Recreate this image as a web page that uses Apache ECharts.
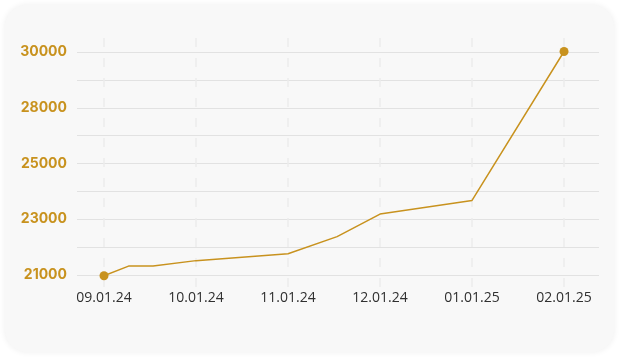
<!DOCTYPE html>
<html>
<head>
<meta charset="utf-8">
<script src="https://cdn.jsdelivr.net/npm/echarts@6/dist/echarts.min.js"></script>
<style>
  html, body { margin: 0; padding: 0; background: #ffffff; width: 619px; height: 358px; overflow: hidden; }
  #card { position: absolute; left: 5px; top: 5px; width: 609px; height: 347px; border-radius: 22px;
          background: #f8f8f8; box-shadow: 0 0 6px rgba(0,0,0,0.07); }
  #chart { position: absolute; left: 0; top: 0; width: 619px; height: 358px; }
</style>
</head>
<body>
<div id="card"></div>
<div id="chart"></div>
<script>
// Data
const dates = ['2024-09-01', '2024-09-09', '2024-09-17', '2024-10-01', '2024-11-01', '2024-11-17', '2024-12-01', '2025-01-01', '2025-02-01'];
const values = [20970, 21360, 21360, 21580, 21860, 22550, 23460, 24010, 30020];
const xTickDates = ['2024-09-01', '2024-10-01', '2024-11-01', '2024-12-01', '2025-01-01', '2025-02-01'];
const xTickLabels = ['09.01.24', '10.01.24', '11.01.24', '12.01.24', '01.01.25', '02.01.25'];
const yTickLabels = ['21000', '', '23000', '', '25000', '', '28000', '', '30000'];

// month-based position: each month occupies an equal span on the axis
const monthPos = s => {
  const [y, m, d] = s.split('-').map(Number);
  const dim = new Date(y, m, 0).getDate();
  return (y - 2024) * 12 + (m - 9) + (d - 1) / dim;
};
const xMin = -0.2935, xMax = 5.38;
const xTicks = xTickDates.map(monthPos);
const yMin = 21000, yMax = 30000, yInt = 1125;
const lastIdx = dates.length - 1;

const seriesData = dates.map((d, i) => [monthPos(d), values[i]]);
const endPoints = [seriesData[0], seriesData[lastIdx]];

const chart = echarts.init(document.getElementById('chart'), null, { renderer: 'canvas' });
chart.setOption({
  animation: false,
  grid: [
    { left: 77, right: 20, top: 52, bottom: 83 },
    { left: 77, right: 20, top: 38, bottom: 68 }
  ],
  xAxis: [
    {
      type: 'value', gridIndex: 0, min: xMin, max: xMax, scale: true,
      axisLine: { show: false }, axisTick: { show: false, customValues: xTicks },
      splitLine: { show: false },
      axisLabel: {
        customValues: xTicks,
        margin: 16,
        color: '#303030', fontFamily: 'Open Sans', fontSize: 14,
        formatter: v => { const i = xTicks.indexOf(v); return i >= 0 ? xTickLabels[i] : ''; }
      }
    },
    {
      type: 'value', gridIndex: 1, min: xMin, max: xMax, scale: true,
      axisLine: { show: false }, axisTick: { show: false, customValues: xTicks },
      axisLabel: { show: false, customValues: xTicks },
      splitLine: { show: true, lineStyle: { color: '#ececec', width: 1.5, type: [9, 11] } }
    }
  ],
  yAxis: [
    {
      type: 'value', gridIndex: 0, min: yMin, max: yMax, interval: yInt,
      axisLine: { show: false }, axisTick: { show: false },
      splitLine: { show: true, lineStyle: { color: '#e2e2e2', width: 1 } },
      axisLabel: {
        margin: 10, color: '#c8921e', fontFamily: 'Inter', fontWeight: 'bold', fontSize: 14,
        formatter: v => yTickLabels[Math.round((v - yMin) / yInt)] || ''
      }
    },
    {
      type: 'value', gridIndex: 1, min: 0, max: 1, show: false,
      splitLine: { show: false }
    }
  ],
  series: [
    {
      type: 'line', xAxisIndex: 0, yAxisIndex: 0,
      data: seriesData,
      showSymbol: false,
      lineStyle: { color: '#c8921e', width: 1.5 },
      itemStyle: { color: '#c8921e' }
    },
    {
      type: 'scatter', xAxisIndex: 0, yAxisIndex: 0,
      data: endPoints,
      symbol: 'circle',
      symbolSize: 9,
      clip: false,
      z: 5,
      itemStyle: { color: '#c8921e', opacity: 1 }
    }
  ]
});
</script>
</body>
</html>
